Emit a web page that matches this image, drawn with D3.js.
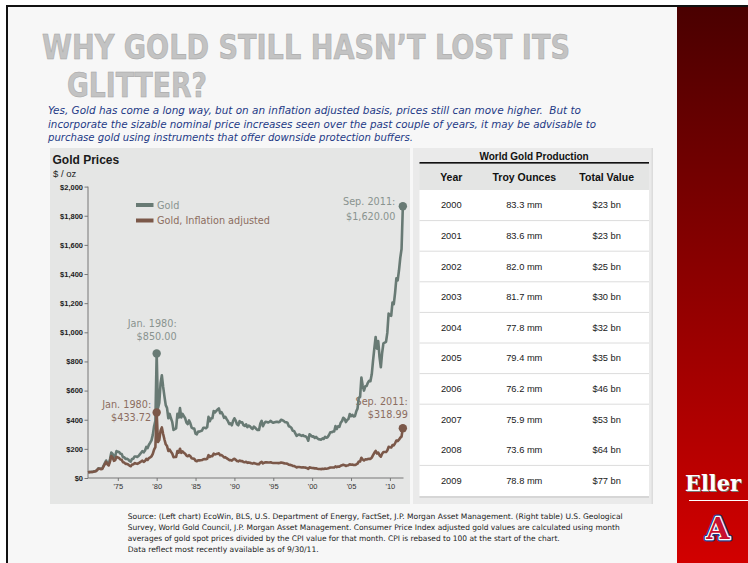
<!DOCTYPE html>
<html><head><meta charset="utf-8">
<script src="https://cdn.jsdelivr.net/npm/d3@7"></script>
<style>html,body{margin:0;padding:0;background:#fff;} svg{display:block}</style>
</head><body><svg id="c" width="748" height="563"></svg>
<script>
// ---------- DATA ----------
// Gold spot price, $/oz, every two months from Mar 1971 to Sep 2011
const goldNominal = [
  38.9,40.5,41.0,42.0,42.9,
  46,48,55,66,65,63,
  65,84,102,120,103,95,
  130,175,165,143,152,185,
  180,178,167,165,143,142,
  131,132,128,118,113,131,
  133,148,147,144,151,162,
  173,184,176,189,213,205,
  228,242,258,296,355,392,
  855,480,515,650,705,625,
  560,500,480,410,440,410,
  385,330,335,340,440,415,
  480,415,440,425,410,380,
  370,395,375,345,340,340,
  305,300,318,318,322,326,
  345,345,342,350,420,390,
  410,410,460,450,460,470,
  478,445,452,437,413,420,
  404,390,370,375,362,392,
  410,394,369,362,390,381,
  383,363,357,368,349,360,
  354,344,337,353,345,335,
  329,330,374,392,355,374,
  386,384,381,385,392,384,
  379,382,385,386,383,386,
  400,396,392,383,383,378,
  355,352,344,324,323,306,
  289,296,299,293,289,294,
  287,286,277,256,300,293,
  284,286,275,282,273,266,
  265,263,272,268,283,276,
  281,295,314,314,319,319,
  356,336,355,351,379,390,
  413,406,384,398,405,439,
  424,434,422,424,456,476,
  550,557,690,633,600,629,
  631,654,667,665,712,806,
  889,968,888,940,830,760,
  858,924,929,934,996,1128,
  1117,1113,1205,1193,1271,1370,
  1356,1424,1510,1572,1865
];
// Gold, inflation adjusted (CPI rebased to 100 at start of chart), same dates
const goldAdjusted = [
  38.9,40.4,40.8,41.6,42.3,
  45,47,54,64,63,61,
  62,79,95,110,94,86,
  114,151,140,118,123,146,
  140,137,127,125,108,106,
  97,97,93,85,81,93,
  93,102,100,97,101,107,
  113,119,111,117,131,124,
  137,142,148,166,195,212,
  450,247,260,325,347,302,
  264,231,219,185,195,180,
  168,143,144,144,185,174,
  201,173,182,174,167,154,
  149,157,149,136,133,132,
  118,115,122,121,122,123,
  129,130,129,132,157,145,
  151,150,167,162,164,167,
  169,156,157,151,141,143,
  136,130,123,123,119,128,
  132,125,117,114,120,116,
  117,110,108,111,104,107,
  105,101,99,103,100,97,
  95,94,106,111,100,105,
  108,107,106,106,108,105,
  103,103,103,103,102,103,
  106,104,102,100,99,97,
  91,90,88,83,82,78,
  73,75,75,74,72,74,
  72,71,68,63,73,71,
  69,68,66,67,64,62,
  62,61,63,62,65,64,
  65,68,72,72,72,72,
  80,75,79,78,84,87,
  91,88,83,86,87,94,
  91,92,89,89,93,98,
  113,113,139,127,120,128,
  127,130,131,131,140,157,
  173,186,168,175,156,146,
  166,178,178,178,189,214,
  211,209,226,224,238,257,
  253,263,276,285,342
];
const seriesStartYear = 1971 + 2/12;   // March 1971
const seriesStepYears = 2/12;          // every two months
const seriesNames = ["Gold", "Gold, Inflation adjusted"];
const yTicks = [0,200,400,600,800,1000,1200,1400,1600,1800,2000];
const yTickLabels = ["$0","$200","$400","$600","$800","$1,000","$1,200","$1,400","$1,600","$1,800","$2,000"];
const xTickYears = [1975,1980,1985,1990,1995,2000,2005,2010];
const xTickLabels = ["'75","'80","'85","'90","'95","'00","'05","'10"];
const callouts = [
  {series:0, year:1980.0, line1:"Jan. 1980:", line2:"$850.00"},
  {series:0, year:2011+8/12, line1:"Sep. 2011:", line2:"$1,620.00"},
  {series:1, year:1980.0, line1:"Jan. 1980:", line2:"$433.72"},
  {series:1, year:2011+8/12, line1:"Sep. 2011:", line2:"$318.99"}
];
const prodYears = ["2000","2001","2002","2003","2004","2005","2006","2007","2008","2009"];
const prodOunces = ["83.3 mm","83.6 mm","82.0 mm","81.7 mm","77.8 mm","79.4 mm","76.2 mm","75.9 mm","73.6 mm","78.8 mm"];
const prodValues = ["$23 bn","$23 bn","$25 bn","$30 bn","$32 bn","$35 bn","$46 bn","$53 bn","$64 bn","$77 bn"];
const prodHeaders = ["Year","Troy Ounces","Total Value"];

// ---------- DRAW ----------
const svg = d3.select("#c");
const SANS = "'Liberation Sans', Arial, sans-serif";
const DJ = "'DejaVu Sans', sans-serif";
const COND = "'DejaVu Sans Condensed', 'DejaVu Sans', sans-serif";

// page frame
svg.append("rect").attr("x",0).attr("y",0).attr("width",748).attr("height",563).attr("fill","#ffffff");
svg.append("rect").attr("x",7).attr("y",5).attr("width",741).attr("height",558).attr("fill","#f7f7f7");
svg.append("rect").attr("x",6).attr("y",5).attr("width",742).attr("height",2).attr("fill","#111");
svg.append("rect").attr("x",6).attr("y",5).attr("width",2).attr("height",558).attr("fill","#111");

// red side bar
const defs = svg.append("defs");
const grad = defs.append("linearGradient").attr("id","redg").attr("x1",0).attr("y1",0).attr("x2",0).attr("y2",1);
grad.append("stop").attr("offset","0%").attr("stop-color","#4a0000");
grad.append("stop").attr("offset","50%").attr("stop-color","#8e0000");
grad.append("stop").attr("offset","100%").attr("stop-color","#d20000");
svg.append("rect").attr("x",677).attr("y",7).attr("width",71).attr("height",556).attr("fill","url(#redg)");
[["#777",1],["#ffffff",0]].forEach(([col,off])=>{
  svg.append("text").attr("x",685+off).attr("y",491+off).text("Eller")
    .attr("font-family","'DejaVu Serif', serif").attr("font-weight","bold").attr("font-size",23)
    .attr("textLength",56).attr("lengthAdjust","spacingAndGlyphs").attr("fill",col);
});
svg.append("line").attr("x1",689).attr("x2",748).attr("y1",500.5).attr("y2",500.5).attr("stroke","#fff").attr("stroke-width",1);
const logo = svg.append("g").attr("font-family","'DejaVu Serif', serif").attr("font-weight","bold").attr("font-size",30).attr("text-anchor","middle");
logo.append("text").attr("x",718).attr("y",539).text("A").attr("fill","none").attr("stroke","#1b3c8c").attr("stroke-width",5).attr("stroke-linejoin","round");
logo.append("text").attr("x",718).attr("y",539).text("A").attr("fill","none").attr("stroke","#ffffff").attr("stroke-width",2.4).attr("stroke-linejoin","round");
logo.append("text").attr("x",718).attr("y",539).text("A").attr("fill","#c8102e");

// title
const title = svg.append("g").attr("font-family",COND).attr("font-weight","bold").attr("font-size",34)
  .attr("fill","#c3c3c3").attr("stroke","#a2a2a2").attr("stroke-width",0.5).style("font-stretch","condensed");
title.append("text").attr("x",42).attr("y",58.5).attr("textLength",528).attr("lengthAdjust","spacingAndGlyphs").text("WHY GOLD STILL HASN\u2019T LOST ITS");
title.append("text").attr("x",67).attr("y",96.5).attr("textLength",140).attr("lengthAdjust","spacingAndGlyphs").text("GLITTER?");

// subtitle
const subLines = [
  ["Yes, Gold has come a long way, but on an inflation adjusted basis, prices still can move higher.  But to", 533, 114],
  ["incorporate the sizable nominal price increases seen over the past couple of years, it may be advisable to", 548, 127.5],
  ["purchase gold using instruments that offer downside protection buffers.", 365, 141]
];
const sub = svg.append("g").attr("font-family",COND).attr("font-style","italic").attr("font-size",11)
  .attr("fill","#1e3a86").style("font-stretch","condensed");
subLines.forEach(s => sub.append("text").attr("x",48).attr("y",s[2]).attr("textLength",s[1]).attr("lengthAdjust","spacingAndGlyphs").style("white-space","pre").text(s[0]));

// ---- left chart panel ----
svg.append("rect").attr("x",50).attr("y",148).attr("width",360).attr("height",356).attr("fill","#e5e6e5");
svg.append("text").attr("x",52.5).attr("y",164).text("Gold Prices").attr("font-family",SANS).attr("font-weight","bold").attr("font-size",12).attr("fill","#1a1a1a");
svg.append("text").attr("x",53).attr("y",176.5).text("$ / oz").attr("font-family",SANS).attr("font-size",9.5).attr("fill","#222");

const x = d3.scaleLinear().domain([seriesStartYear, 2011.75]).range([88, 403.5]);
const y = d3.scaleLinear().domain([0, 2000]).range([478, 186.6]);

// y axis
const ya = svg.append("g").attr("transform","translate(88,0)")
  .call(d3.axisLeft(y).tickValues(yTicks).tickSize(3.5).tickPadding(1.5).tickFormat((d,i)=>yTickLabels[i]));
ya.select(".domain").attr("stroke","#777").attr("d","M0,"+y(2000)+"V"+y(0));
ya.selectAll(".tick line").attr("stroke","#777");
ya.selectAll(".tick text").attr("font-family",SANS).attr("font-size",7.5).attr("fill","#222").attr("font-weight","bold");
// x axis
const xa = svg.append("g").attr("transform","translate(0,478)")
  .call(d3.axisBottom(x).tickValues(xTickYears).tickSize(3).tickPadding(2.5).tickFormat((d,i)=>xTickLabels[i]));
xa.select(".domain").attr("stroke","#777").attr("d","M88,0H403.5");
xa.selectAll(".tick line").attr("stroke","#777");
xa.selectAll(".tick text").attr("font-family",SANS).attr("font-size",7.5).attr("fill","#333");

const colors = ["#687a74", "#7b5849"];
const labelColors = ["#89938f", "#8c6d60"];
const seriesData = [goldNominal, goldAdjusted].map(arr => arr.map((v,i)=>({t: seriesStartYear + i*seriesStepYears, v})));

// legend
seriesNames.forEach((n,i)=>{
  const ly = [205, 220.5][i];
  svg.append("line").attr("x1",136).attr("x2",153.5).attr("y1",ly).attr("y2",ly).attr("stroke",colors[i]).attr("stroke-width",4);
  svg.append("text").attr("x",157).attr("y",ly+3.5).text(n).attr("font-family",DJ).attr("font-size",9.7).attr("fill",labelColors[i]);
});

// callout labels (under lines)
const offs = [
  {dx:20, dy1:-26, dy2:-13.5},
  {dx:-7.5, dy1:-1, dy2:13.5},
  {dx:-5.5, dy1:-4, dy2:9},
  {dx:5, dy1:-23, dy2:-10}
];
const pointAt = (si, yr) => seriesData[si].reduce((a,b)=> Math.abs(b.t-yr)<Math.abs(a.t-yr)?b:a);
callouts.forEach((c,i)=>{
  const p = pointAt(c.series, c.year);
  const px = x(p.t), py = y(p.v), o = offs[i];
  const g = svg.append("g").attr("font-family",DJ).attr("font-size",9.7).attr("fill",labelColors[c.series]).attr("text-anchor","end");
  g.append("text").attr("x",px+o.dx).attr("y",py+o.dy1).text(c.line1);
  g.append("text").attr("x",px+o.dx).attr("y",py+o.dy2).text(c.line2);
});

// lines
const line = d3.line().x(d=>x(d.t)).y(d=>y(d.v)).curve(d3.curveLinear);
seriesData.forEach((s,i)=>{
  svg.append("path").datum(s).attr("d",line).attr("fill","none").attr("stroke",colors[i])
    .attr("stroke-width",2.6).attr("stroke-linejoin","round");
});
// dots
callouts.forEach(c=>{
  const p = pointAt(c.series, c.year);
  svg.append("circle").attr("cx",x(p.t)).attr("cy",y(p.v)).attr("r",4.2).attr("fill",colors[c.series]);
});

// ---- table panel ----
svg.append("rect").attr("x",413).attr("y",148).attr("width",240).attr("height",356).attr("fill","#eaeaea");
svg.append("rect").attr("x",651.5).attr("y",148).attr("width",1.5).attr("height",356).attr("fill","#dcdcdc");
svg.append("text").attr("x",534).attr("y",160).attr("text-anchor","middle").text("World Gold Production")
  .attr("font-family",SANS).attr("font-weight","bold").attr("font-size",10).attr("fill","#111");
svg.append("rect").attr("x",419.5).attr("y",162).attr("width",229.5).attr("height",1.8).attr("fill","#111");
svg.append("rect").attr("x",419.5).attr("y",163.8).attr("width",229.5).attr("height",26.2).attr("fill","#e4e5e4");
const colX = [451.3, 524.3, 606.7];
prodHeaders.forEach((h,i)=>svg.append("text").attr("x",colX[i]).attr("y",180.5).attr("text-anchor","middle").text(h)
  .attr("font-family",SANS).attr("font-weight","bold").attr("font-size",10.5).attr("fill","#111"));
const rowTop = 190, rowH = 30.6;
const rows = d3.range(prodYears.length);
svg.append("rect").attr("x",419.5).attr("y",rowTop).attr("width",229.5).attr("height",rowH*rows.length).attr("fill","#ffffff");
rows.forEach(i=>{
  const ty = rowTop + i*rowH + 18.3;
  [prodYears[i], prodOunces[i], prodValues[i]].forEach((t,j)=>svg.append("text").attr("x",colX[j]).attr("y",ty)
    .attr("text-anchor","middle").text(t).attr("font-family",SANS).attr("font-size",9.3).attr("fill","#1a1a1a"));
  if (i < rows.length-1 && i !== 7) {
    svg.append("line").attr("x1",419.5).attr("x2",649).attr("y1",rowTop+(i+1)*rowH).attr("y2",rowTop+(i+1)*rowH)
      .attr("stroke","#dcdcdc").attr("stroke-width",1);
  }
});
svg.append("rect").attr("x",419.5).attr("y",rowTop+rowH*rows.length).attr("width",229.5).attr("height",2).attr("fill","#d6d6d6");

// ---- footer ----
const foot = [
  ["Source: (Left chart) EcoWin, BLS, U.S. Department of Energy, FactSet, J.P. Morgan Asset Management. (Right table) U.S. Geological", 495, 518.5],
  ["Survey, World Gold Council, J.P. Morgan Asset Management. Consumer Price Index adjusted gold values are calculated using month", 492, 529.5],
  ["averages of gold spot prices divided by the CPI value for that month. CPI is rebased to 100 at the start of the chart.", 432, 540.5],
  ["Data reflect most recently available as of 9/30/11.", 191, 552]
];
const fg = svg.append("g").attr("font-family",COND).attr("font-size",7.6).attr("fill","#222").style("font-stretch","condensed");
foot.forEach(f=>fg.append("text").attr("x",127.7).attr("y",f[2]).attr("textLength",f[1]).attr("lengthAdjust","spacingAndGlyphs").text(f[0]));
</script></body></html>
